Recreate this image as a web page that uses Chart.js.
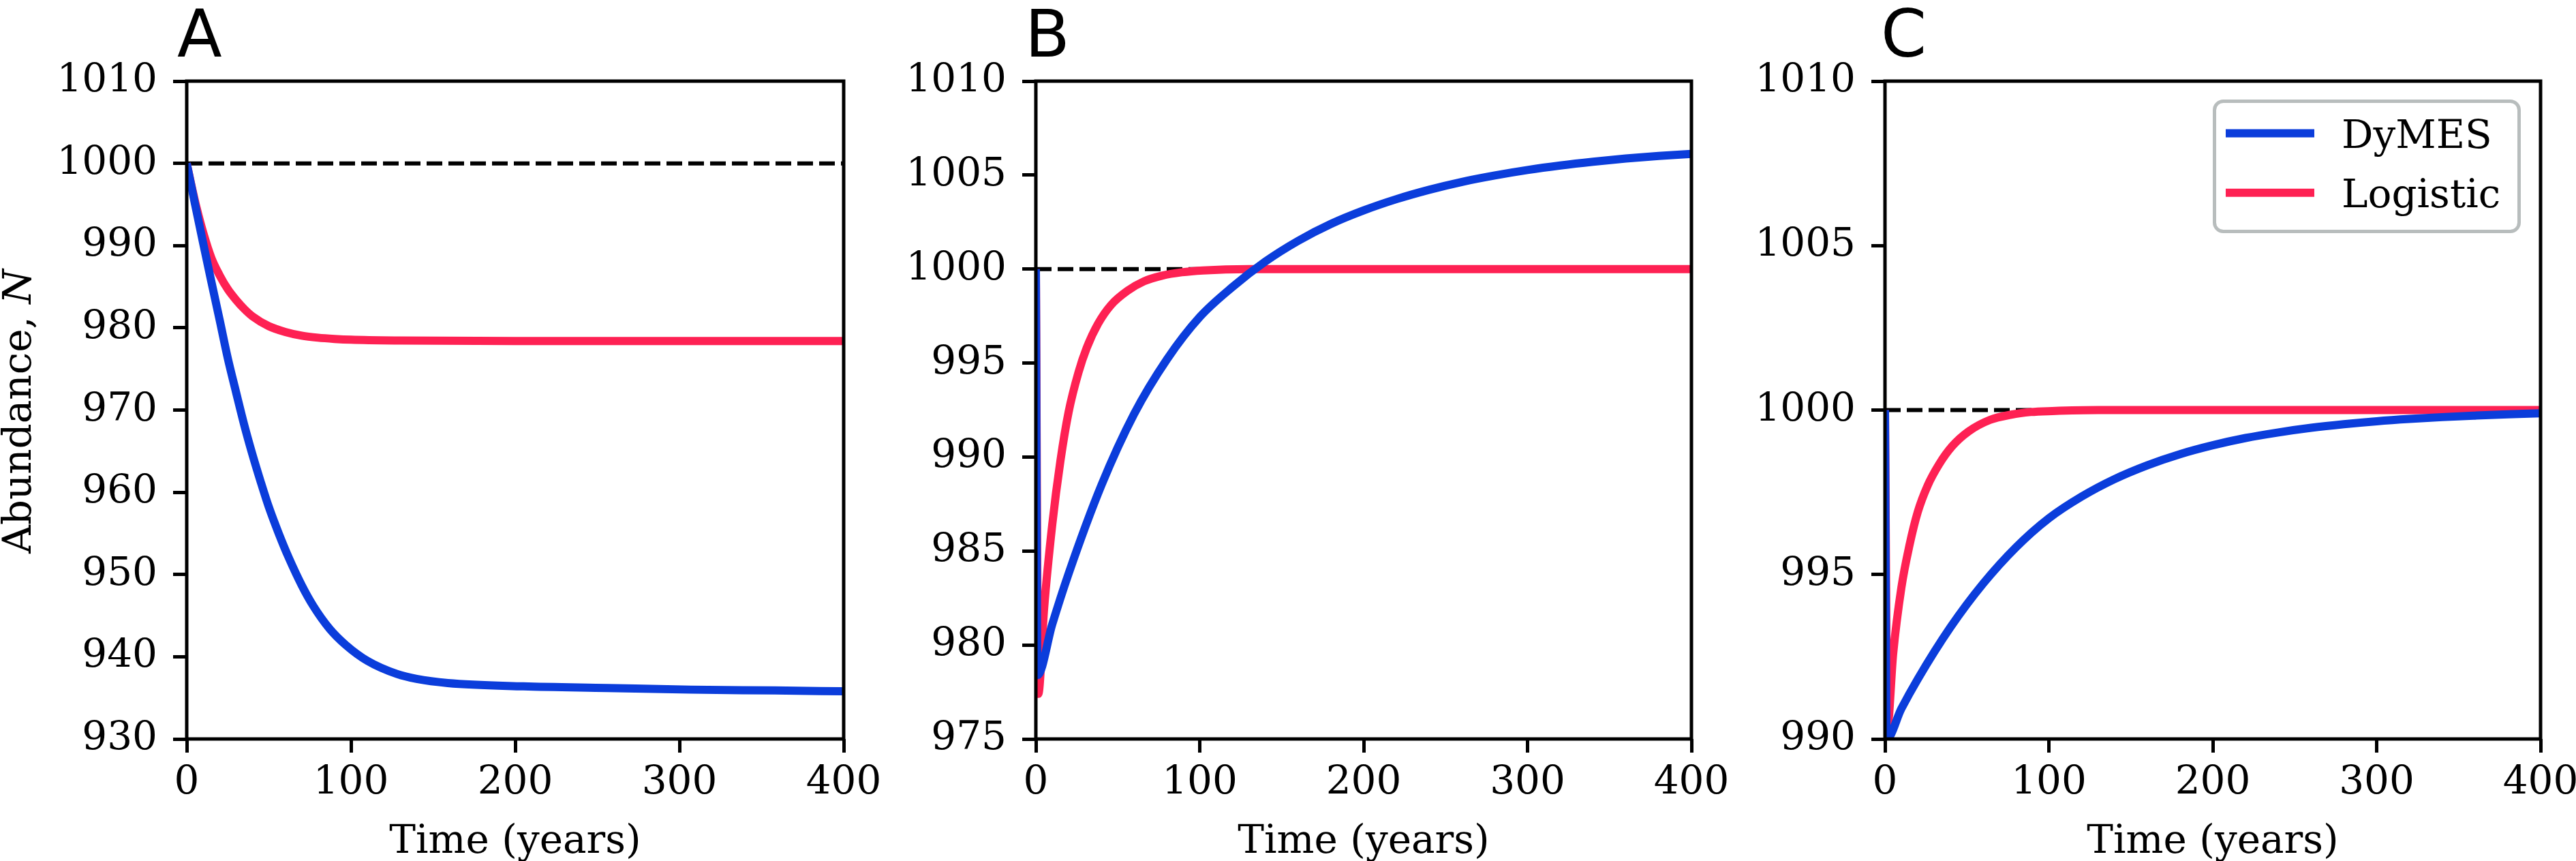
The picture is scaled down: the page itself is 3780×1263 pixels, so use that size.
<!DOCTYPE html>
<html>
<head>
<meta charset="utf-8">
<script src="https://cdn.jsdelivr.net/npm/chart.js@4.4.0/dist/chart.umd.min.js"></script>
<style>
html, body { margin: 0; padding: 0; background: #fff; overflow: hidden; }
#wrap { position: relative; width: 3780px; height: 1263px; background: #fff; }
#wrap canvas { position: absolute; left: 0; top: 0; }
</style>
</head>
<body>
<div id="wrap">
<canvas id="cA" width="3780" height="1263"></canvas>
<canvas id="cB" width="3780" height="1263"></canvas>
<canvas id="cC" width="3780" height="1263"></canvas>
</div>
<script>
// ---------------- data ----------------
const seriesNames = ['DyMES', 'Logistic'];
const xTicks  = [0, 100, 200, 300, 400];
const yTicksA = [930, 940, 950, 960, 970, 980, 990, 1000, 1010];
const yTicksB = [975, 980, 985, 990, 995, 1000, 1005, 1010];
const yTicksC = [990, 995, 1000, 1005, 1010];

// carrying capacity reference (dashed)
const refTime = [0, 400];
const refN    = [1000, 1000];

// Panel A
const tA_dymes = [0, 5, 10, 15, 20, 25, 30, 35, 40, 45, 50, 56, 62, 70, 77, 87, 97, 110, 128, 140, 159, 205, 256, 307, 358, 400];
const nA_dymes = [1000, 995.1, 990.3, 985.6, 981.0, 976.3, 972.2, 968.2, 964.6, 961.3, 958.2, 955.0, 952.1, 948.7, 946.2, 943.4, 941.4, 939.5, 937.9, 937.3, 936.8, 936.4, 936.2, 936.0, 935.9, 935.8];
const tA_logis = [0, 3, 6, 10, 15, 20, 25, 30, 35, 40, 50, 60, 70, 80, 90, 100, 130, 200, 300, 400];
const nA_logis = [1000, 997.2, 994.6, 991.6, 988.5, 986.4, 984.7, 983.4, 982.3, 981.4, 980.2, 979.5, 979.05, 978.8, 978.65, 978.55, 978.45, 978.4, 978.4, 978.4];

// Panel B
const tB_dymes = [0, 1, 10, 20, 40, 60, 80, 100, 120, 140, 160, 180, 200, 220, 240, 260, 280, 300, 320, 340, 360, 380, 400];
const nB_dymes = [1000, 978.4, 981.1, 983.8, 988.5, 992.3, 995.2, 997.45, 999.05, 1000.4, 1001.5, 1002.4, 1003.12, 1003.72, 1004.22, 1004.64, 1004.98, 1005.27, 1005.51, 1005.71, 1005.88, 1006.02, 1006.13];
const tB_logis = [0, 1.5, 5, 10, 15, 20, 26, 31, 38, 46, 56, 66, 77, 89, 102, 130, 200, 300, 400];
const nB_logis = [1000, 977.4, 981.9, 986.4, 989.8, 992.4, 994.5, 995.8, 997.1, 998.1, 998.85, 999.35, 999.65, 999.83, 999.93, 1000, 1000, 1000, 1000];

// Panel C
const tC_dymes = [0, 1, 10, 20, 40, 60, 80, 100, 120, 140, 160, 180, 200, 220, 240, 260, 280, 300, 320, 340, 360, 380, 400];
const nC_dymes = [1000, 990.0, 990.92, 991.82, 993.4, 994.73, 995.83, 996.71, 997.37, 997.9, 998.32, 998.66, 998.93, 999.15, 999.32, 999.46, 999.57, 999.66, 999.73, 999.785, 999.83, 999.87, 999.9];
const tC_logis = [0, 1.5, 5, 10, 15, 20, 26, 33, 41, 51, 64, 77, 89, 102, 130, 200, 300, 400];
const nC_logis = [1000, 990.4, 992.6, 994.6, 995.9, 996.9, 997.7, 998.35, 998.9, 999.35, 999.7, 999.86, 999.94, 999.97, 1000, 1000, 1000, 1000];

// ---------------- styling ----------------
const BLUE = '#0b3ddb';
const RED  = '#fe2153';
const SERIF = "'DejaVu Serif', 'Liberation Serif', serif";
const SANS  = "'DejaVu Sans', 'Liberation Sans', sans-serif";
const W = 3780, H = 1263;
const PLOT_TOP = 119, PLOT_BOTTOM = 1084;
const YAXIS_W = 274;

function pts(t, n) { return t.map((v, i) => ({ x: v, y: n[i] })); }

const decoPlugin = {
  id: 'deco',
  afterDatasetsDraw(chart, args, o) {
    const { ctx, chartArea: a } = chart;
    ctx.save();
    ctx.strokeStyle = '#000';
    ctx.lineWidth = 5;
    ctx.lineJoin = 'miter';
    ctx.strokeRect(a.left, a.top, a.right - a.left, a.bottom - a.top);
    ctx.restore();
  },
  afterDraw(chart, args, o) {
    const { ctx, chartArea: a } = chart;
    ctx.save();
    ctx.fillStyle = '#000';
    // panel letter
    ctx.font = '96px ' + SANS;
    ctx.textAlign = 'left';
    ctx.textBaseline = 'alphabetic';
    ctx.fillText(o.letter, o.letterX, 83);
    // x-axis title
    ctx.font = '58px ' + SERIF;
    ctx.textAlign = 'center';
    ctx.fillText('Time (years)', (a.left + a.right) / 2, 1251);
    // y-axis title
    if (o.yTitle) {
      ctx.save();
      ctx.translate(45, (a.top + a.bottom) / 2 + 2);
      ctx.rotate(-Math.PI / 2);
      const f1 = '58px ' + SERIF, f2 = 'italic 58px ' + SERIF;
      ctx.font = f1; const w1 = ctx.measureText('Abundance, ').width;
      ctx.font = f2; const w2 = ctx.measureText('N').width;
      const x0 = -(w1 + w2) / 2;
      ctx.textAlign = 'left';
      ctx.font = f1; ctx.fillText('Abundance, ', x0, 0);
      ctx.font = f2; ctx.fillText('N', x0 + w1, 0);
      ctx.restore();
    }
    // legend
    if (o.legend) {
      const bx = 3249.5, by = 148.5, bw = 447, bh = 191;
      ctx.beginPath();
      ctx.roundRect(bx, by, bw, bh, 13);
      ctx.fillStyle = 'rgba(255,255,255,0.8)';
      ctx.fill();
      ctx.lineWidth = 5;
      ctx.strokeStyle = '#b8bdbd';
      ctx.stroke();
      const rows = [195.5, 282.7];
      chart.data.datasets.slice(0, 2).forEach((ds, i) => {
        const y = rows[i];
        ctx.beginPath();
        ctx.moveTo(3266, y);
        ctx.lineTo(3396, y);
        ctx.strokeStyle = ds.borderColor;
        ctx.lineWidth = 12;
        ctx.lineCap = 'butt';
        ctx.stroke();
        ctx.fillStyle = '#000';
        ctx.font = '58px ' + SERIF;
        ctx.textAlign = 'left';
        ctx.textBaseline = 'alphabetic';
        ctx.fillText(ds.label, 3436, y + 21.2);
      });
    }
    ctx.restore();
  }
};

function makeChart(id, p) {
  const tickFont = { family: SERIF, size: 58 };
  const gridCfg = {
    display: true, drawOnChartArea: false, drawTicks: true,
    tickLength: 20, tickWidth: 5, tickColor: '#000', color: '#000', lineWidth: 5
  };
  return new Chart(document.getElementById(id), {
    type: 'line',
    data: {
      datasets: [
        { label: seriesNames[0], data: pts(p.tD, p.nD), borderColor: BLUE, borderWidth: 12,
          cubicInterpolationMode: 'monotone', pointRadius: 0, borderJoinStyle: 'round', borderCapStyle: 'butt', fill: false },
        { label: seriesNames[1], data: pts(p.tL, p.nL), borderColor: RED, borderWidth: 12,
          cubicInterpolationMode: 'monotone', pointRadius: 0, borderJoinStyle: 'round', borderCapStyle: 'butt', fill: false },
        { label: 'K', data: pts(refTime, refN), borderColor: '#000', borderWidth: 6,
          borderDash: [23, 9], pointRadius: 0, tension: 0, fill: false }
      ]
    },
    options: {
      responsive: false,
      animation: false,
      devicePixelRatio: 1,
      events: [],
      layout: { padding: { left: p.left - YAXIS_W, right: W - p.right, top: PLOT_TOP, bottom: 0 } },
      plugins: {
        legend: { display: false },
        tooltip: { enabled: false },
        title: { display: false },
        deco: { letter: p.letter, letterX: p.letterX, yTitle: p.yTitle, legend: p.legend }
      },
      scales: {
        x: {
          type: 'linear', min: 0, max: 400, position: 'bottom',
          afterBuildTicks: s => { s.ticks = xTicks.map(v => ({ value: v })); },
          afterFit: s => { s.height = H - PLOT_BOTTOM; s.paddingLeft = 0; s.paddingRight = 0; },
          ticks: { font: tickFont, color: '#000', padding: 10, maxRotation: 0, autoSkip: false,
                   callback: v => String(v) },
          grid: gridCfg,
          border: { display: false },
          title: { display: false }
        },
        y: {
          type: 'linear', min: p.yTicks[0], max: p.yTicks[p.yTicks.length - 1], position: 'left',
          afterBuildTicks: s => { s.ticks = p.yTicks.map(v => ({ value: v })); },
          afterFit: s => { s.width = YAXIS_W; s.paddingTop = 0; s.paddingBottom = 0; },
          ticks: { font: tickFont, color: '#000', padding: 23, autoSkip: false,
                   callback: v => String(v) },
          grid: gridCfg,
          border: { display: false },
          title: { display: false }
        }
      }
    },
    plugins: [decoPlugin]
  });
}

makeChart('cA', { left: 274, right: 1238, letter: 'A', letterX: 260, yTitle: true, legend: false,
  yTicks: yTicksA, tD: tA_dymes, nD: nA_dymes, tL: tA_logis, nL: nA_logis });
makeChart('cB', { left: 1520, right: 2482, letter: 'B', letterX: 1504, yTitle: false, legend: false,
  yTicks: yTicksB, tD: tB_dymes, nD: nB_dymes, tL: tB_logis, nL: nB_logis });
makeChart('cC', { left: 2766, right: 3728, letter: 'C', letterX: 2760, yTitle: false, legend: true,
  yTicks: yTicksC, tD: tC_dymes, nD: nC_dymes, tL: tC_logis, nL: nC_logis });
</script>
</body>
</html>
